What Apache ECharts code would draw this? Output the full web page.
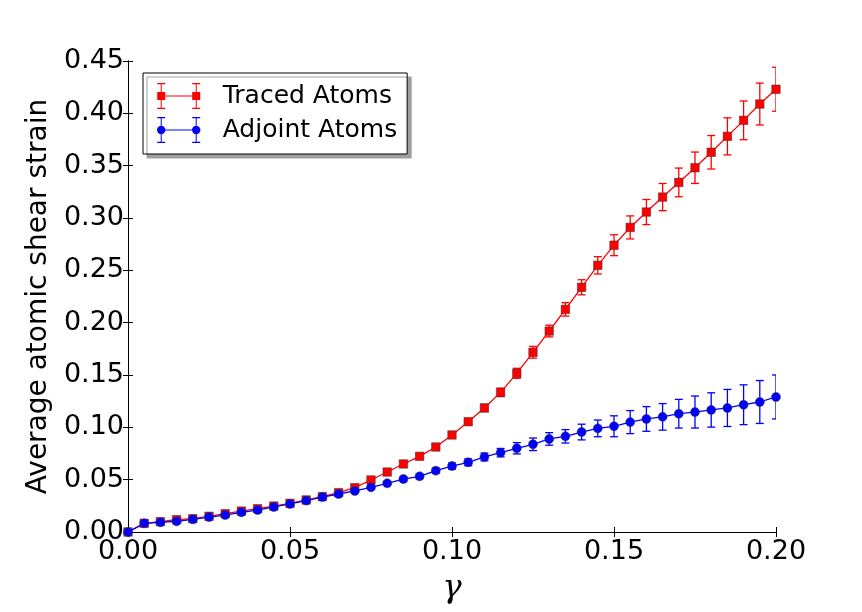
<!DOCTYPE html>
<html>
<head>
<meta charset="utf-8">
<script src="https://cdn.jsdelivr.net/npm/echarts@6/dist/echarts.min.js"></script>
<style>
html,body{margin:0;padding:0;background:#fff;}
#chart{width:862px;height:612px;}
</style>
</head>
<body>
<div id="chart"></div>
<script>
var gamma = [0, 0.005, 0.01, 0.015, 0.02, 0.025, 0.03, 0.035, 0.04, 0.045, 0.05, 0.055, 0.06, 0.065, 0.07, 0.075, 0.08, 0.085, 0.09, 0.095, 0.1, 0.105, 0.11, 0.115, 0.12, 0.125, 0.13, 0.135, 0.14, 0.145, 0.15, 0.155, 0.16, 0.165, 0.17, 0.175, 0.18, 0.185, 0.19, 0.195, 0.2];
var traced = [0, 0.0083, 0.0099, 0.0118, 0.0127, 0.015, 0.0175, 0.020, 0.0223, 0.0248, 0.0274, 0.0306, 0.0338, 0.0376, 0.0424, 0.0497, 0.0573, 0.065, 0.0723, 0.0812, 0.0927, 0.1054, 0.1185, 0.1334, 0.1516, 0.1717, 0.192, 0.2127, 0.2338, 0.2548, 0.274, 0.291, 0.3057, 0.320, 0.334, 0.348, 0.3628, 0.378, 0.3933, 0.4089, 0.423];
var tracedErr = [0, 0.0005, 0.0005, 0.0005, 0.0006, 0.0007, 0.0008, 0.0009, 0.001, 0.001, 0.0011, 0.0012, 0.0013, 0.0014, 0.0015, 0.0016, 0.0018, 0.002, 0.0022, 0.0025, 0.0028, 0.003, 0.0035, 0.004, 0.0048, 0.0056, 0.0056, 0.0064, 0.0072, 0.0083, 0.0100, 0.011, 0.012, 0.013, 0.0137, 0.015, 0.016, 0.0177, 0.0185, 0.020, 0.021];
var adjoint = [0, 0.0083, 0.0093, 0.0102, 0.0121, 0.0143, 0.0162, 0.0188, 0.021, 0.0239, 0.0268, 0.030, 0.0334, 0.0363, 0.0392, 0.0427, 0.0465, 0.0506, 0.0532, 0.0586, 0.063, 0.0666, 0.0717, 0.0758, 0.080, 0.0838, 0.0889, 0.0914, 0.0955, 0.099, 0.101, 0.105, 0.108, 0.110, 0.113, 0.1146, 0.1166, 0.1185, 0.1216, 0.1242, 0.129];
var adjointErr = [0, 0.0005, 0.0005, 0.0005, 0.0006, 0.0007, 0.0008, 0.0009, 0.001, 0.001, 0.0011, 0.0012, 0.0013, 0.0014, 0.0015, 0.0016, 0.0018, 0.002, 0.0022, 0.0025, 0.003, 0.0033, 0.0037, 0.004, 0.0054, 0.006, 0.006, 0.0064, 0.0075, 0.008, 0.010, 0.011, 0.0118, 0.0127, 0.0137, 0.0153, 0.0164, 0.0177, 0.019, 0.0205, 0.021];
var xTicks = [0, 0.05, 0.1, 0.15, 0.2];
var yTicks = [0, 0.05, 0.1, 0.15, 0.2, 0.25, 0.3, 0.35, 0.4, 0.45];

var RED = '#ff0000', BLUE = '#0000ff';
var FONT = 'DejaVu Sans';

function pairs(xs, ys) { return xs.map(function (x, i) { return [x, ys[i]]; }); }
function errData(xs, ys, es) { return xs.map(function (x, i) { return [x, ys[i] - es[i], ys[i] + es[i]]; }); }

function errRender(color) {
  return function (params, api) {
    var x = api.value(0);
    var lo = api.coord([x, api.value(1)]);
    var hi = api.coord([x, api.value(2)]);
    var w = 4;
    var st = { stroke: color, lineWidth: 1.3 };
    return {
      type: 'group',
      children: [
        { type: 'line', shape: { x1: lo[0], y1: lo[1], x2: hi[0], y2: hi[1] }, style: st },
        { type: 'line', shape: { x1: lo[0] - w, y1: lo[1], x2: lo[0] + w, y2: lo[1] }, style: st },
        { type: 'line', shape: { x1: hi[0] - w, y1: hi[1], x2: hi[0] + w, y2: hi[1] }, style: st }
      ]
    };
  };
}

var errBars = 'M4 0H5V26H4Z M0.5 0H8.5V1.2H0.5Z M0.5 24.8H8.5V26H0.5Z M39 0H40V26H39Z M35.5 0H43.5V1.2H35.5Z M35.5 24.8H43.5V26H35.5Z M4.5 12.4H39.5V13.6H4.5Z';
var redIcon = 'path://' + errBars + ' M0.5 9H8.5V17H0.5Z M35.5 9H43.5V17H35.5Z';
var blueIcon = 'path://' + errBars + ' M8.7 13A4.2 4.2 0 1 1 0.3 13A4.2 4.2 0 1 1 8.7 13Z M43.7 13A4.2 4.2 0 1 1 35.3 13A4.2 4.2 0 1 1 43.7 13Z';

var axisCommon = {
  type: 'value',
  axisLine: { show: true, lineStyle: { color: '#000', width: 1 } },
  axisTick: { show: true, inside: true, length: 5, lineStyle: { color: '#000', width: 1 } },
  splitLine: { show: false }
};

var chart = echarts.init(document.getElementById('chart'), null, { renderer: 'canvas' });
chart.setOption({
  animation: false,
  backgroundColor: '#fff',
  grid: { left: 128, right: 86, top: 61, bottom: 80, show: false },
  xAxis: [
    Object.assign({}, axisCommon, {
      position: 'bottom', min: 0, max: 0.2, interval: 0.05,
      axisLabel: { show: true, margin: 6, color: '#000', fontFamily: FONT, fontSize: 27,
        formatter: function (v) { return v.toFixed(2); } },
      name: 'γ', nameLocation: 'middle', nameGap: 41,
      nameTextStyle: { fontFamily: 'DejaVu Serif', fontStyle: 'italic', fontSize: 32, color: '#000' }
    }),
    Object.assign({}, axisCommon, {
      position: 'top', min: 0, max: 0.2, interval: 0.05, axisLabel: { show: false }
    })
  ],
  yAxis: [
    Object.assign({}, axisCommon, {
      position: 'left', min: 0, max: 0.45, interval: 0.05,
      axisLabel: { show: true, margin: 4, color: '#000', fontFamily: FONT, fontSize: 27,
        formatter: function (v) { return v.toFixed(2); } },
      name: 'Average atomic shear strain', nameLocation: 'middle', nameGap: 64,
      nameTextStyle: { fontFamily: FONT, fontSize: 28, color: '#000' }
    }),
    Object.assign({}, axisCommon, {
      position: 'right', min: 0, max: 0.45, interval: 0.05, axisLabel: { show: false }
    })
  ],
  legend: {
    orient: 'vertical', left: 143, top: 73,
    padding: [10, 10, 11, 14], itemGap: 8, itemWidth: 44, itemHeight: 26,
    backgroundColor: '#fff', borderColor: '#000', borderWidth: 1, borderRadius: 0,
    shadowColor: '#a0a0a0', shadowBlur: 0, shadowOffsetX: 4, shadowOffsetY: 4,
    textStyle: { fontFamily: FONT, fontSize: 25, color: '#000', padding: [0, 0, 0, 17] },
    data: [
      { name: 'Traced Atoms', icon: redIcon, itemStyle: { color: RED, borderWidth: 0 } },
      { name: 'Adjoint Atoms', icon: blueIcon, itemStyle: { color: BLUE, borderWidth: 0 } }
    ]
  },
  series: [
    {
      name: 'traced-err', type: 'custom', z: 2, clip: true,
      renderItem: errRender(RED), data: errData(gamma, traced, tracedErr),
      encode: { x: 0, y: [1, 2] }, silent: true
    },
    {
      name: 'Traced Atoms', type: 'line', z: 3, data: pairs(gamma, traced),
      symbol: 'rect', symbolSize: 8.5, showAllSymbol: true,
      lineStyle: { color: RED, width: 1.3 },
      itemStyle: { color: RED, borderColor: '#333', borderWidth: 0.5 }
    },
    {
      name: 'adjoint-err', type: 'custom', z: 4, clip: true,
      renderItem: errRender(BLUE), data: errData(gamma, adjoint, adjointErr),
      encode: { x: 0, y: [1, 2] }, silent: true
    },
    {
      name: 'Adjoint Atoms', type: 'line', z: 5, data: pairs(gamma, adjoint),
      symbol: 'circle', symbolSize: 9, showAllSymbol: true,
      lineStyle: { color: BLUE, width: 1.3 },
      itemStyle: { color: BLUE, borderColor: '#333', borderWidth: 0.5 }
    }
  ]
});
</script>
</body>
</html>
